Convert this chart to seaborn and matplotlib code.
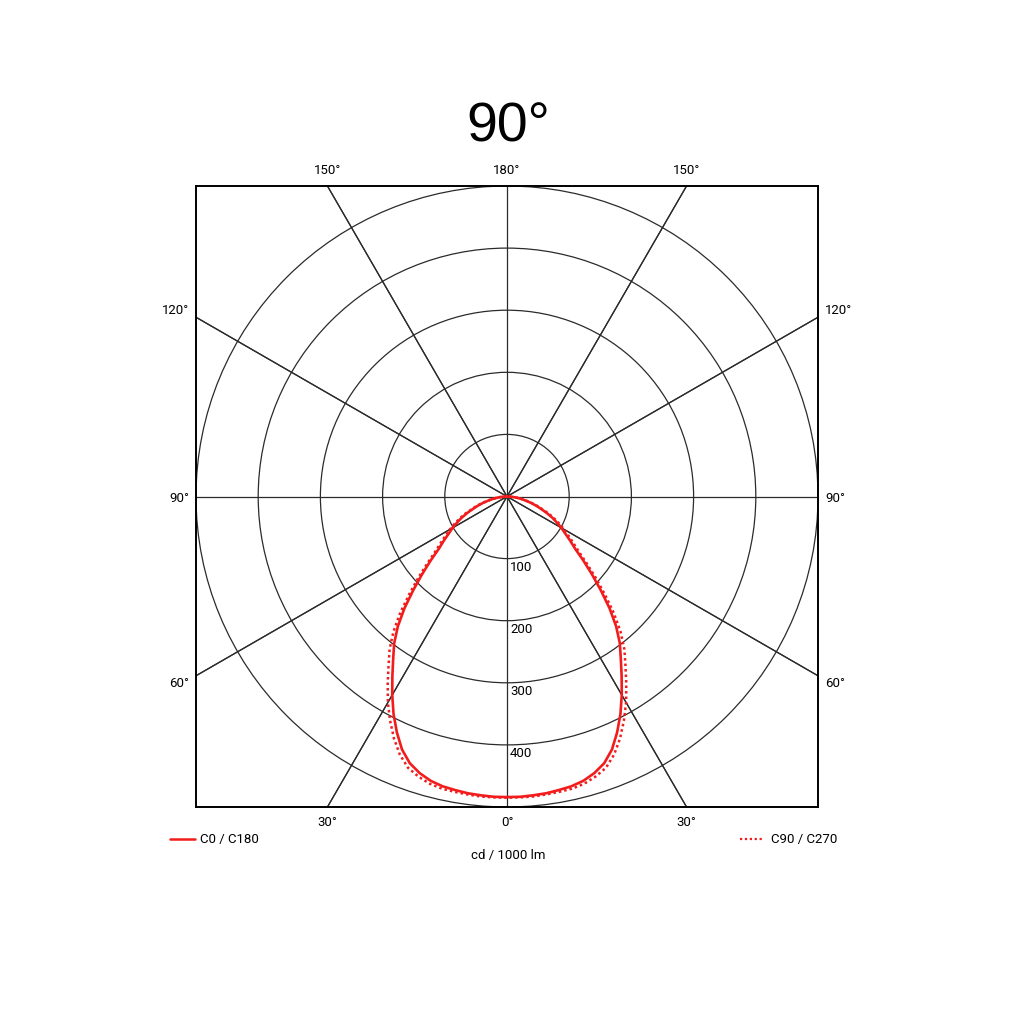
import numpy as np
import pandas as pd
import matplotlib
matplotlib.use("Agg")
import matplotlib.pyplot as plt
import seaborn as sns
from matplotlib.patches import Circle
from matplotlib.lines import Line2D

# ---- data ----
gamma_deg = [0, 2.5, 5, 7.5, 10, 12.5, 15, 17.5, 20, 22.5, 25, 27.5, 30, 32.5,
             35, 37.5, 40, 42.5, 45, 47.5, 50, 52.5, 55, 57.5, 60, 62.5, 65,
             67.5, 70, 72.5, 75, 77.5, 80, 82.5, 85, 87.5, 90]
c0_c180 = [484, 484, 483, 482, 480, 478, 474, 467, 457, 441, 419, 395, 369, 343,
           319, 298, 273, 244, 213, 185, 160, 138, 124, 111, 101, 90, 80,
           69, 58, 49, 40, 31, 24, 17, 11, 5, 0]
c90_c270 = [485, 485, 485, 484, 483, 482, 479, 473, 465, 450, 430, 407, 383, 357,
            332, 310, 284, 254, 222, 193, 167, 145, 130, 117, 106, 95, 84,
            73, 61, 52, 42, 33, 25, 18, 11, 5, 0]
ring_values = [100, 200, 300, 400, 500]
ring_labels = ["100", "200", "300", "400"]
spoke_angles = [0, 30, 60, 90, 120, 150]
title_text = "90°"
unit_text = "cd / 1000 lm"
legend_names = ["C0 / C180", "C90 / C270"]

sns.set_theme(style="white")
plt.rcParams['font.family'] = ['Roboto', 'DejaVu Sans']
plt.rcParams['text.color'] = 'black'

RED = "#f21c1c"
GRID = "#2b2b2b"

def to_xy(g, r):
    g = np.radians(np.asarray(g, float))
    r = np.asarray(r, float)
    xl = -r[::-1] * np.sin(g[::-1])
    yl = -r[::-1] * np.cos(g[::-1])
    xr = r[1:] * np.sin(g[1:])
    yr = -r[1:] * np.cos(g[1:])
    return np.concatenate([xl, xr]), np.concatenate([yl, yr])

x0, y0 = to_xy(gamma_deg, c0_c180)
x9, y9 = to_xy(gamma_deg, c90_c270)
df0 = pd.DataFrame({"x": x0, "y": y0})
df9 = pd.DataFrame({"x": x9, "y": y9})

fig = plt.figure(figsize=(10.24, 10.24), dpi=100)
fig.patch.set_facecolor("white")
ax = fig.add_axes([196/1024, (1024-807)/1024, 622/1024, 621/1024])
ax.set_xlim(-500, 500)
ax.set_ylim(-500, 500)
ax.set_xticks([]); ax.set_yticks([])
for s in ax.spines.values():
    s.set_visible(True)
    s.set_color("black")
    s.set_linewidth(1.4)

# rings
for rv in ring_values:
    ax.add_patch(Circle((0, 0), rv, fill=False, ec=GRID, lw=0.9, zorder=1))
# spokes
for a in spoke_angles:
    if a == 0:
        ax.axvline(0, color=GRID, lw=0.9, zorder=1)
    elif a == 90:
        ax.axhline(0, color=GRID, lw=0.9, zorder=1)
    else:
        ang = np.radians(a)
        slope = -np.cos(ang) / np.sin(ang)
        ax.axline((0, 0), slope=slope, color=GRID, lw=0.9, zorder=1)
        ax.axline((0, 0), slope=-slope, color=GRID, lw=0.9, zorder=1)

# curves
sns.lineplot(data=df9, x="x", y="y", sort=False, estimator=None, ax=ax,
             color=RED, lw=1.8, linestyle=(0, (1, 1.2)), zorder=3)
sns.lineplot(data=df0, x="x", y="y", sort=False, estimator=None, ax=ax,
             color=RED, lw=1.9, zorder=4, solid_joinstyle="round")
ax.set_xlabel(""); ax.set_ylabel("")

fs = 9.5
# ring labels
for rv, lab in zip(ring_values, ring_labels):
    ax.annotate(lab, (0, -rv), xytext=(3, -9), textcoords="offset pixels",
                ha="left", va="center", fontsize=fs, color="black", zorder=5)

# angle labels
tx = 500 * np.tan(np.radians(30))
top = [(-tx, "150°"), (0, "180°"), (tx, "150°")]
for xv, lab in top:
    ax.annotate(lab, (xv, 500), xytext=(0, 16), textcoords="offset pixels",
                ha="center", va="center", fontsize=fs, annotation_clip=False)
bot = [(-tx, "30°"), (0, "0°"), (tx, "30°")]
for xv, lab in bot:
    ax.annotate(lab, (xv, -500), xytext=(0, -16), textcoords="offset pixels",
                ha="center", va="center", fontsize=fs, annotation_clip=False)
side = [(tx, "120°", 7), (0, "90°", -2), (-tx, "60°", -8)]
for yv, lab, dy in side:
    ax.annotate(lab, (-500, yv), xytext=(-7, dy), textcoords="offset pixels",
                ha="right", va="center", fontsize=fs, annotation_clip=False)
    ax.annotate(lab, (500, yv), xytext=(7, dy), textcoords="offset pixels",
                ha="left", va="center", fontsize=fs, annotation_clip=False)

# title
fig.text(508/1024, 1 - 127/1024, title_text, ha="center", va="center",
         fontsize=40, color="black", family=["Liberation Sans", "DejaVu Sans"])

# legend (manual, figure coords)
ly = 1 - 839/1024
fig.add_artist(Line2D([170/1024, 195/1024], [ly, ly], color=RED, lw=1.8))
fig.text(200/1024, ly, legend_names[0], ha="left", va="center", fontsize=fs)
fig.add_artist(Line2D([740/1024, 763/1024], [ly, ly], color=RED, lw=1.6,
                      linestyle=(0, (1, 1.2))))
fig.text(771/1024, ly, legend_names[1], ha="left", va="center", fontsize=fs)
fig.text(508/1024, 1 - 856/1024, unit_text, ha="center", va="center", fontsize=fs)

fig.savefig("out.png", dpi=100, facecolor="white")
